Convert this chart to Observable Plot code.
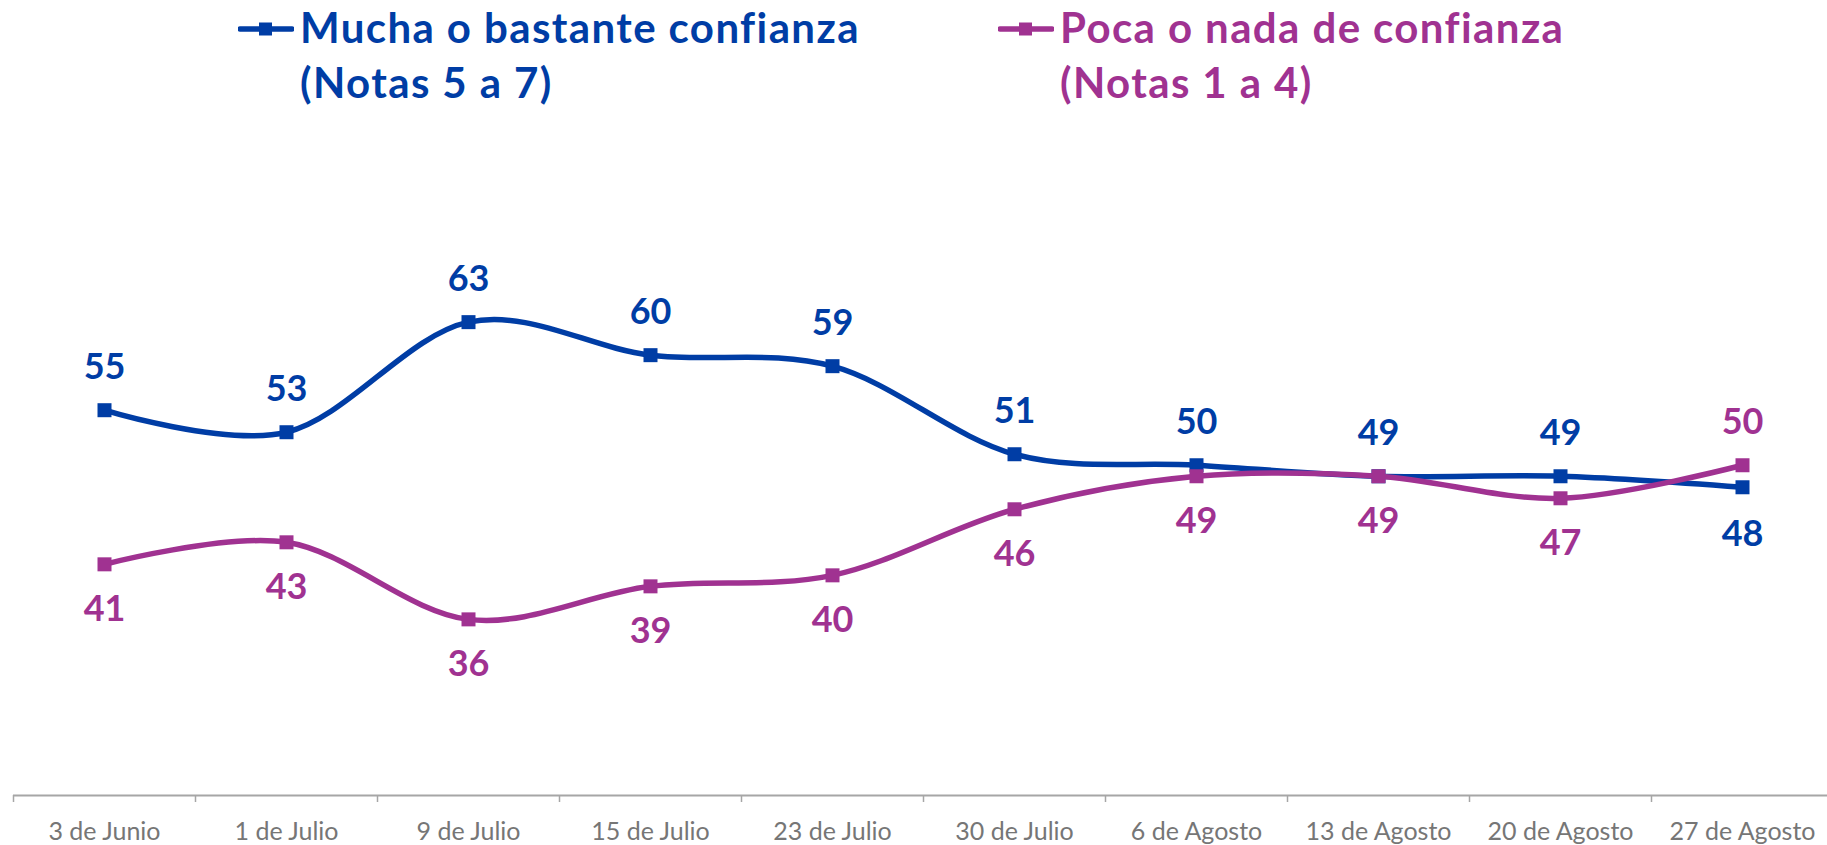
<!DOCTYPE html>
<html>
<head>
<meta charset="utf-8">
<script src="https://cdn.jsdelivr.net/npm/d3@7"></script>
<script src="https://cdn.jsdelivr.net/npm/@observablehq/plot@0.6"></script>
<style>
  html, body { margin: 0; padding: 0; background: #fff; }
  #wrap { position: relative; width: 1827px; height: 845px; overflow: hidden; font-family: Lato, sans-serif; }
  #legend { position: relative; width: 1827px; height: 125px; }
  .sym { position: absolute; top: 0; }
  .lbl { position: absolute; top: 0; font-weight: 700; font-size: 42px; letter-spacing: 1.4px; line-height: 55px; white-space: nowrap; }
  #chart svg { display: block; }
</style>
</head>
<body>
<div id="wrap">
  <div id="legend"></div>
  <div id="chart"></div>
</div>
<script>
const categories = ["3 de Junio", "1 de Julio", "9 de Julio", "15 de Julio", "23 de Julio", "30 de Julio", "6 de Agosto", "13 de Agosto", "20 de Agosto", "27 de Agosto"];
const mucha = [55, 53, 63, 60, 59, 51, 50, 49, 49, 48];
const poca = [41, 43, 36, 39, 40, 46, 49, 49, 47, 50];
const seriesNames = [["Mucha o bastante confianza", "(Notas 5 a 7)"], ["Poca o nada de confianza", "(Notas 1 a 4)"]];
const yDomain = [20, 80];

const BLUE = "#003DA5";
const PURPLE = "#A03291";

// Legend (HTML)
const legend = document.getElementById("legend");
const legendItems = [
  {names: seriesNames[0], color: BLUE, left: 238},
  {names: seriesNames[1], color: PURPLE, left: 998}
];
for (const it of legendItems) {
  const sym = document.createElementNS("http://www.w3.org/2000/svg", "svg");
  sym.setAttribute("width", 56); sym.setAttribute("height", 60);
  sym.setAttribute("class", "sym");
  sym.style.left = it.left + "px";
  sym.innerHTML = `<line x1="2" x2="54" y1="29" y2="29" stroke="${it.color}" stroke-width="5.5" stroke-linecap="round"/>` +
    `<rect x="21" y="22.5" width="13" height="13" fill="${it.color}"/>`;
  legend.appendChild(sym);
  const lbl = document.createElement("div");
  lbl.className = "lbl";
  lbl.style.left = (it.left + 62) + "px";
  lbl.style.color = it.color;
  lbl.innerHTML = it.names[0] + "<br>" + it.names[1];
  legend.appendChild(lbl);
}

const rows = categories.map((c, i) => ({i, cat: c, mucha: mucha[i], poca: poca[i]}));
const idx = categories.map((_, i) => i);
const bounds = categories.map((_, i) => i - 0.5).concat([categories.length - 0.5]);

const labelStyle = {lineAnchor: "middle", fontSize: 36, fontWeight: "bold"};

const chart = Plot.plot({
  width: 1827,
  height: 720,
  marginTop: 9.5,
  marginBottom: 50,
  marginLeft: 13,
  marginRight: 0,
  style: {fontFamily: "Lato, sans-serif", background: "#fff"},
  x: {type: "linear", domain: [-0.5, categories.length - 0.5], range: [13, 1833], label: null},
  y: {domain: yDomain, axis: null, label: null},
  marks: [
    Plot.ruleY([yDomain[0]], {stroke: "#a6a6a6", strokeWidth: 2}),
    Plot.axisX({ticks: bounds, tickSize: 7, tickFormat: () => "", stroke: "#a6a6a6", strokeWidth: 1.5, label: null}),
    Plot.axisX({ticks: idx, tickSize: 0, tickPadding: 27, tickFormat: i => categories[i], fontSize: 25, color: "#767676", label: null}),
    Plot.line(rows, {x: "i", y: "mucha", stroke: BLUE, strokeWidth: 5.5, curve: "cardinal"}),
    Plot.dot(rows, {x: "i", y: "mucha", symbol: "square", r: 7.9, fill: BLUE, stroke: "none"}),
    Plot.line(rows, {x: "i", y: "poca", stroke: PURPLE, strokeWidth: 5.5, curve: "cardinal"}),
    Plot.dot(rows, {x: "i", y: "poca", symbol: "square", r: 7.9, fill: PURPLE, stroke: "none"}),
    Plot.text(rows, {filter: d => d.mucha >= d.poca, x: "i", y: "mucha", text: "mucha", dy: -43, fill: BLUE, ...labelStyle}),
    Plot.text(rows, {filter: d => d.mucha < d.poca, x: "i", y: "mucha", text: "mucha", dy: 47, fill: BLUE, ...labelStyle}),
    Plot.text(rows, {filter: d => d.poca <= d.mucha, x: "i", y: "poca", text: "poca", dy: 45, fill: PURPLE, ...labelStyle}),
    Plot.text(rows, {filter: d => d.poca > d.mucha, x: "i", y: "poca", text: "poca", dy: -43, fill: PURPLE, ...labelStyle})
  ]
});
document.getElementById("chart").appendChild(chart);
</script>
</body>
</html>
